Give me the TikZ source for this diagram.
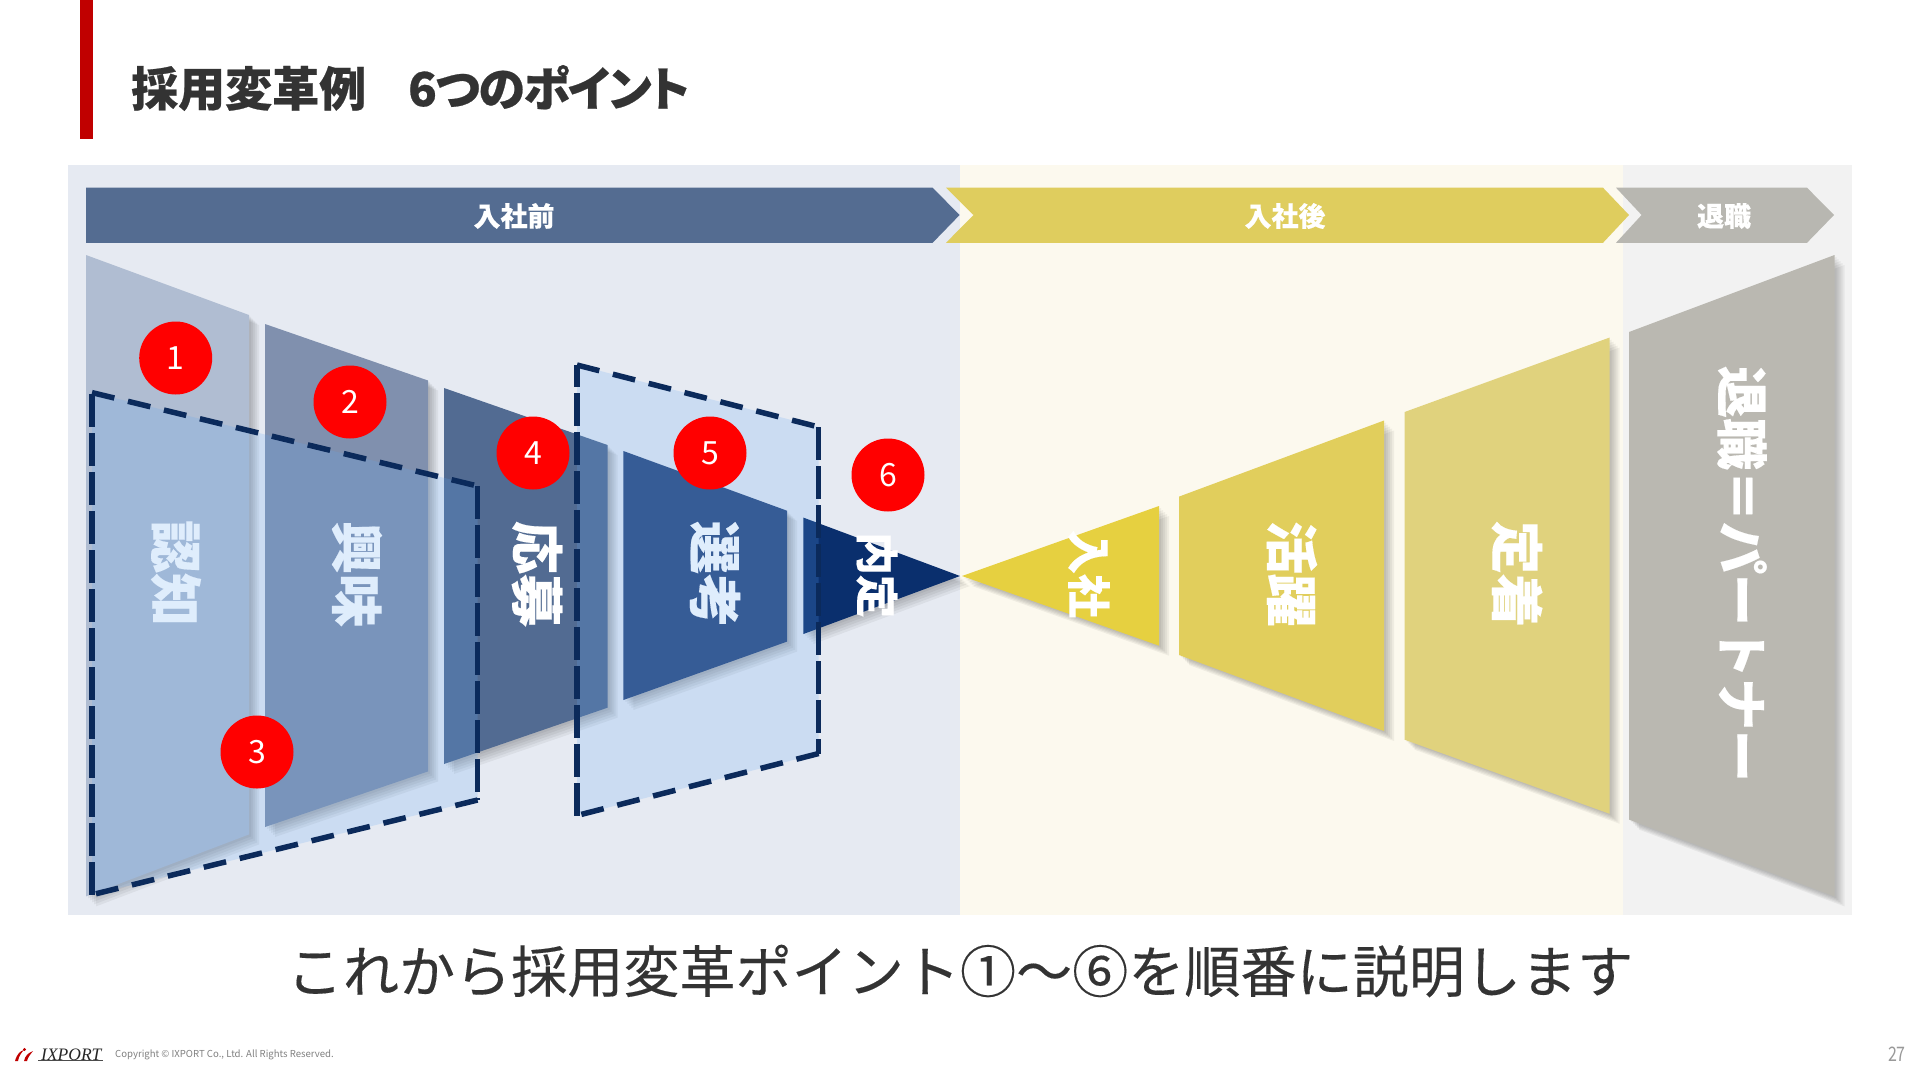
\documentclass[tikz,border=0pt]{standalone}
\usepackage{fontspec}
\setmainfont[BoldFeatures={FakeBold=0.25}]{Noto Sans CJK JP}
\newfontfamily\titlefont[BoldFeatures={FakeBold=0.5,RawFeature=+palt}]{Noto Sans CJK JP}
\newfontfamily\titlefonttight[BoldFeatures={FakeBold=0.5,RawFeature=+palt,LetterSpace=-3}]{Noto Sans CJK JP}
\newfontfamily\capfont[FakeBold=0.25]{Noto Sans CJK JP}
\newfontfamily\logofont{Liberation Serif}
\newcommand\fsz[1]{\fontsize{#1}{#1}\selectfont}
\definecolor{pblue}{HTML}{E6EAF2}
\definecolor{pyel}{HTML}{FCF9EE}
\definecolor{pgray}{HTML}{F2F2F2}
\definecolor{ablue}{HTML}{546C91}
\definecolor{ayel}{HTML}{DFCD5E}
\definecolor{agray}{HTML}{B8B7B1}
\definecolor{fa}{HTML}{B0BDD2}
\definecolor{fb}{HTML}{8090AE}
\definecolor{fc}{HTML}{526B92}
\definecolor{fd}{HTML}{2C4A7F}
\definecolor{fe}{HTML}{0A2F6D}
\definecolor{ff}{HTML}{E6D040}
\definecolor{fg}{HTML}{E1CE5C}
\definecolor{fh}{HTML}{E0D27D}
\definecolor{fi}{HTML}{BAB8B1}
\definecolor{dk}{HTML}{333333}
\definecolor{dashc}{HTML}{0B2A5B}
\definecolor{boxc}{HTML}{5FA5F2}
\definecolor{redbar}{HTML}{C00000}
\definecolor{redc}{HTML}{FF0000}
\newcommand\funnelshape[2]{%
  \foreach \o in {2,4,6,8,10}{\fill[black,opacity=.05,shift={(\o,\o)}] #2;}
  \fill[#1] #2;}
\tikzset{
  x=1pt,y=-1pt,
  head/.style={text=white,font=\fsz{27}\bfseries,inner sep=0},
  vert/.style={text=white,rotate=-90,inner sep=0,font=\fsz{53}\bfseries},
  badge/.style={circle,fill=redc,minimum size=73pt,inner sep=0,text=white,font=\fsz{32}},
  boxfill/.style={fill=boxc,opacity=.2},
  dashv/.style={draw=dashc,line width=5.5pt,dash pattern=on 33pt off 6pt},
  dashd/.style={draw=dashc,line width=5.5pt,dash pattern=on 23pt off 14pt},
}
\begin{document}
\begin{tikzpicture}
\useasboundingbox (0,0) rectangle (1920,1080);
\fill[white] (0,0) rectangle (1920,1080);
% title
\fill[redbar] (80,0) rectangle (92.5,139);
\node[anchor=west,inner sep=0,text=dk,font=\titlefont\fsz{47}\bfseries] (title) at (131,88) {採用変革例\hspace{42pt}{\titlefonttight\fsz{47}\bfseries 6つのポイント}};
% panels
\fill[pblue] (67.5,164.5) rectangle (960,914.5);
\fill[pyel] (960,164.5) rectangle (1623,914.5);
\fill[pgray] (1623,164.5) rectangle (1852,914.5);
% header arrows
\fill[ablue] (86,187.7) -- (932.6,187.7) -- (959.6,215) -- (932.6,242.8) -- (86,242.8) -- cycle;
\fill[ayel] (946,187.7) -- (1603,187.7) -- (1629,215) -- (1603,242.8) -- (946,242.8) -- (973.5,215) -- cycle;
\fill[agray] (1616,187.7) -- (1807,187.7) -- (1834,215) -- (1807,242.8) -- (1616,242.8) -- (1641.6,215) -- cycle;
\node[head] (h1) at (514,216) {入社前};
\node[head] (h2) at (1285,216) {入社後};
\node[head] (h3) at (1724,216) {退職};
% funnels
\funnelshape{fa}{(86,255) -- (249,315) -- (249,834.4) -- (86,896.4) -- cycle}
\funnelshape{fb}{(265,324) -- (428,380.5) -- (428,771.4) -- (265,827) -- cycle}
\funnelshape{fc}{(444,388) -- (607.5,445) -- (607.5,707.7) -- (444,764) -- cycle}
\funnelshape{fd}{(623.4,451) -- (787,510.7) -- (787,641.6) -- (623.4,700) -- cycle}
\funnelshape{fe}{(803.4,517.6) -- (960,576) -- (803.4,634) -- cycle}
\funnelshape{ff}{(962,576) -- (1159,506) -- (1159,645.7) -- cycle}
\funnelshape{fg}{(1179,496.6) -- (1384,420.5) -- (1384,731) -- (1179,655) -- cycle}
\funnelshape{fh}{(1404.6,412) -- (1609.7,337.5) -- (1609.7,813.8) -- (1404.6,739.7) -- cycle}
\funnelshape{fi}{(1629,332) -- (1834.5,255) -- (1834.5,896.4) -- (1629,819.6) -- cycle}
% funnel labels
\node[vert] (t1) at (176,573) {認知};
\node[vert] (t2) at (357,574) {興味};
\node[vert] (t3) at (537,574) {応募};
\node[vert] (t4) at (715,574) {選考};
\node[vert,font=\fsz{43}\bfseries] (t5) at (877,575) {内定};
\node[vert,font=\fsz{44}\bfseries] (t6) at (1089,574) {入社};
\node[vert] (t7) at (1292,574) {活躍};
\node[vert] (t8) at (1517,574) {定着};
\node[vert,font=\fsz{52}\bfseries] (t9) at (1742,574) {退職＝パートナー};
% dashed boxes
\fill[boxfill] (92,392.6) -- (477.6,486) -- (477.6,800) -- (92,894.7) -- cycle;
\fill[boxfill] (577,365) -- (818.7,427) -- (818.7,753.5) -- (577,815.5) -- cycle;
\draw[dashd] (92,392.6) -- (477.6,486);
\draw[dashv] (477.6,486) -- (477.6,800);
\draw[dashd] (477.6,800) -- (92,894.7);
\draw[dashv] (92,894.7) -- (92,392.6);
\draw[dashd] (577,365) -- (818.7,427);
\draw[dashv] (818.7,427) -- (818.7,753.5);
\draw[dashd] (818.7,753.5) -- (577,815.5);
\draw[dashv] (577,815.5) -- (577,365);
% badges
\node[badge] (b1) at (175.7,358) {1};
\node[badge] (b2) at (350,402) {2};
\node[badge] (b3) at (257,752) {3};
\node[badge] (b4) at (533,453) {4};
\node[badge] (b5) at (710,453) {5};
\node[badge] (b6) at (888,475) {6};
% caption
\node[inner sep=0,text=dk,font=\capfont\fsz{56.1}] (cap) at (960,971) {これから採用変革ポイント①～⑥を順番に説明します};
% footer
\fill[redbar] (15,1061) .. controls (17,1054) and (20,1051) .. (24,1050) .. controls (21,1053) and (19,1056) .. (18,1061) -- cycle;
\fill[redbar] (24,1061) .. controls (25,1056) and (28,1053) .. (33,1051) .. controls (30,1055) and (28,1057) .. (27,1061) -- cycle;
\fill[redbar] (24.5,1049.5) circle (1.7);
\node[anchor=west,inner sep=0,text=black!85,font=\logofont\itshape\fsz{17.5}] (logo) at (41,1054.5) {IXPORT};
\draw[black!70,line width=.7pt] (38,1060.5) -- (103,1060.5);
\node[anchor=west,inner sep=0,text=black!50,font=\fsz{9.6}] (copy) at (115,1055) {Copyright © IXPORT Co., Ltd. All Rights Reserved.};
\node[anchor=east,inner sep=0,text=black!40,font=\fsz{20},xscale=.8] (page) at (1906,1054) {27};
\end{tikzpicture}
\end{document}
